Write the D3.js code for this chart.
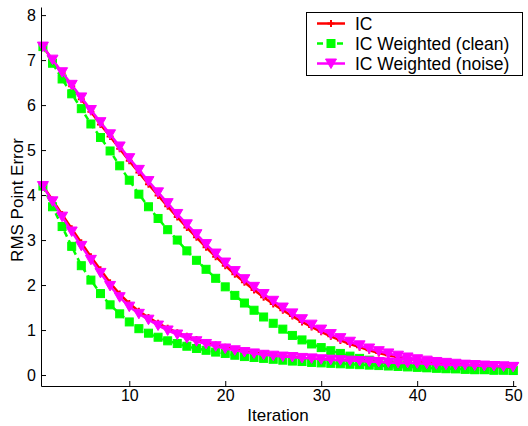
<!DOCTYPE html>
<html>
<head>
<meta charset="utf-8">
<script src="https://cdn.jsdelivr.net/npm/d3@7"></script>
<style>
  html, body { margin: 0; padding: 0; background: #fff; }
  svg { display: block; }
  text { font-family: "Liberation Sans", Arial, Helvetica, sans-serif; fill: #000; }
</style>
</head>
<body>
<script>
// ---------- data ----------
const iterations = [1,2,3,4,5,6,7,8,9,10,11,12,13,14,15,16,17,18,19,20,21,22,23,24,25,
                    26,27,28,29,30,31,32,33,34,35,36,37,38,39,40,41,42,43,44,45,46,47,48,49,50];

// first experiment (starting near 7.3)
const icA = [7.30,7.00,6.71,6.42,6.13,5.85,5.57,5.30,5.03,4.76,4.50,4.24,3.99,3.75,3.51,3.28,3.06,2.84,2.63,2.43,
             2.24,2.06,1.89,1.73,1.58,1.44,1.31,1.18,1.07,0.96,0.86,0.77,0.69,0.62,0.55,0.49,0.44,0.40,0.36,0.32,
             0.29,0.27,0.25,0.23,0.21,0.20,0.19,0.18,0.17,0.16];
const cleanA = [7.30,6.93,6.58,6.25,5.92,5.58,5.28,4.98,4.65,4.33,4.02,3.74,3.48,3.23,3.00,2.76,2.55,2.35,2.15,1.96,
                1.77,1.60,1.44,1.29,1.15,1.02,0.88,0.78,0.69,0.61,0.54,0.48,0.42,0.37,0.33,0.29,0.26,0.23,0.21,0.19,
                0.17,0.16,0.15,0.14,0.13,0.12,0.12,0.11,0.11,0.10];
const noiseA = [7.30,7.01,6.73,6.45,6.17,5.89,5.62,5.35,5.08,4.82,4.56,4.31,4.06,3.82,3.58,3.35,3.13,2.91,2.70,2.50,
                2.31,2.13,1.96,1.80,1.65,1.50,1.37,1.24,1.12,1.01,0.91,0.82,0.74,0.66,0.59,0.53,0.48,0.43,0.39,0.35,
                0.32,0.29,0.27,0.25,0.23,0.22,0.21,0.20,0.19,0.18];

// second experiment (starting near 4.2)
const icB = [4.20,3.89,3.57,3.25,2.94,2.63,2.34,2.05,1.80,1.59,1.42,1.28,1.15,1.04,0.94,0.86,0.79,0.72,0.67,0.62,
             0.57,0.53,0.50,0.47,0.44,0.42,0.40,0.38,0.37,0.35,0.34,0.33,0.32,0.31,0.30,0.29,0.28,0.27,0.27,0.26,
             0.25,0.24,0.23,0.22,0.22,0.21,0.20,0.20,0.19,0.18];
const cleanB = [4.20,3.74,3.30,2.86,2.43,2.11,1.81,1.56,1.36,1.18,1.03,0.93,0.84,0.76,0.70,0.64,0.59,0.55,0.51,0.48,
                0.44,0.41,0.39,0.37,0.35,0.33,0.31,0.30,0.28,0.27,0.26,0.25,0.24,0.23,0.22,0.21,0.20,0.19,0.18,0.17,
                0.16,0.15,0.14,0.14,0.13,0.12,0.12,0.11,0.11,0.10];
const noiseB = [4.20,3.86,3.52,3.19,2.87,2.56,2.27,1.98,1.73,1.52,1.36,1.23,1.10,0.99,0.90,0.82,0.75,0.69,0.64,0.59,
                0.55,0.51,0.48,0.45,0.43,0.41,0.40,0.38,0.37,0.35,0.34,0.33,0.32,0.31,0.30,0.29,0.28,0.27,0.27,0.26,
                0.25,0.24,0.23,0.22,0.22,0.21,0.20,0.20,0.19,0.18];

const xTicks = [10,20,30,40,50];
const yTicks = [0,1,2,3,4,5,6,7,8];
const legendLabels = ["IC", "IC Weighted (clean)", "IC Weighted (noise)"];
const xLabel = "Iteration";
const yLabel = "RMS Point Error";

// ---------- chart ----------
const W = 528, H = 426;
const svg = d3.select("body").append("svg").attr("width", W).attr("height", H);

const x = d3.scaleLinear().domain([0.8, 50.3]).range([41, 516]);
const y = d3.scaleLinear().domain([-0.244, 8.18]).range([386, 7]);

const RED = "#ff0000", GREEN = "#00ff00", MAGENTA = "#ff00ff";

const styles = [
  { color: RED, dash: null, marker: "plus" },
  { color: GREEN, dash: "6,4", marker: "square" },
  { color: MAGENTA, dash: null, marker: "tri" }
];

function drawMarker(g, type, cx, cy, color) {
  if (type === "plus") {
    g.append("path")
      .attr("d", `M${cx-3.5},${cy}H${cx+3.5}M${cx},${cy-3.5}V${cy+3.5}`)
      .attr("stroke", color).attr("stroke-width", 2).attr("fill", "none");
  } else if (type === "square") {
    g.append("rect")
      .attr("x", cx - 4).attr("y", cy - 4).attr("width", 8).attr("height", 8)
      .attr("fill", color).attr("stroke", color).attr("stroke-width", 1);
  } else {
    g.append("path")
      .attr("d", `M${cx-5.5},${cy-4.5}L${cx+5.5},${cy-4.5}L${cx},${cy+5}Z`)
      .attr("fill", color).attr("stroke", color).attr("stroke-width", 1);
  }
}

const line = d3.line().x(d => x(d[0])).y(d => y(d[1]));

function drawSeries(values, st) {
  const pts = iterations.map((it, i) => [it, values[i]]);
  const g = svg.append("g");
  g.append("path").datum(pts)
    .attr("d", line)
    .attr("fill", "none")
    .attr("stroke", st.color)
    .attr("stroke-width", 2.5)
    .attr("stroke-dasharray", st.dash);
  pts.forEach(p => drawMarker(g, st.marker, x(p[0]), y(p[1]), st.color));
}

[[icA, cleanA, noiseA], [icB, cleanB, noiseB]].forEach(group => {
  group.forEach((vals, k) => drawSeries(vals, styles[k]));
});

// axes
const xAxis = d3.axisBottom(x).tickValues(xTicks).tickSizeInner(-5).tickSizeOuter(0).tickPadding(4);
const yAxis = d3.axisLeft(y).tickValues(yTicks).tickSizeInner(-5).tickSizeOuter(0).tickPadding(5);

const gx = svg.append("g").attr("transform", "translate(0,386)").call(xAxis);
const gy = svg.append("g").attr("transform", "translate(41,0)").call(yAxis);
[gx, gy].forEach(g => {
  g.select(".domain").attr("stroke", "#000").attr("stroke-width", 1);
  g.selectAll(".tick line").attr("stroke", "#000").attr("stroke-width", 1);
  g.selectAll(".tick text").attr("font-size", 16)
    .attr("font-family", "'Liberation Sans', Arial, Helvetica, sans-serif").attr("fill", "#000");
});

svg.append("text").attr("x", 278).attr("y", 421).attr("text-anchor", "middle")
  .attr("font-size", 17).text(xLabel);
svg.append("text").attr("transform", "translate(22.5,200) rotate(-90)").attr("text-anchor", "middle")
  .attr("font-size", 17).text(yLabel);

// legend
const lg = svg.append("g");
lg.append("rect").attr("x", 306.5).attr("y", 12.5).attr("width", 216).attr("height", 63)
  .attr("fill", "#fff").attr("stroke", "#000").attr("stroke-width", 1);
legendLabels.forEach((lab, k) => {
  const cy = 23.5 + k * 20;
  const st = styles[k];
  lg.append("path").attr("d", `M317,${cy}H345`).attr("stroke", st.color).attr("stroke-width", 2.5)
    .attr("stroke-dasharray", st.dash).attr("fill", "none");
  drawMarker(lg, st.marker, 331, cy, st.color);
  lg.append("text").attr("x", 355).attr("y", cy + 6).attr("font-size", 17.5).text(lab);
});
</script>
</body>
</html>
